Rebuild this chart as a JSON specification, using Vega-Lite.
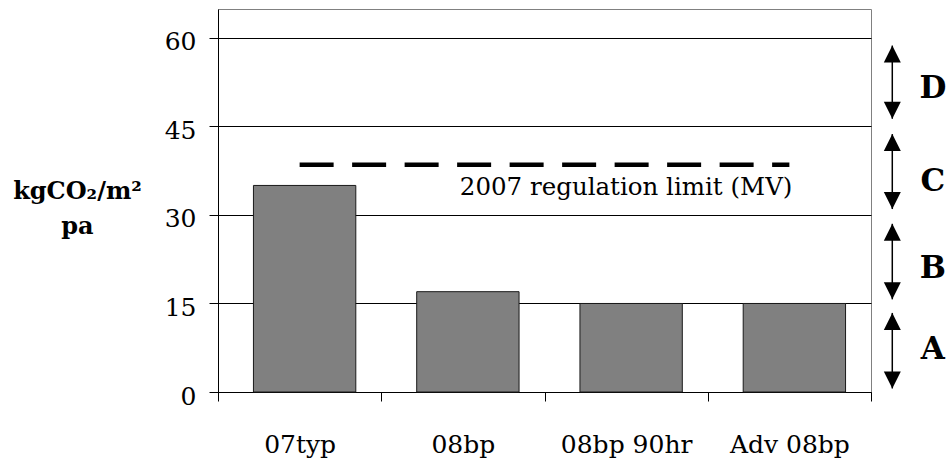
{
  "$schema": "https://vega.github.io/schema/vega-lite/v6.json",
  "width": 653,
  "height": 383,
  "autosize": "none",
  "padding": {"left": 218, "top": 9, "right": 76, "bottom": 69},
  "background": "white",
  "config": {
    "view": {"stroke": "#808080", "strokeWidth": 1},
    "font": "DejaVu Serif",
    "axis": {"labelFont": "DejaVu Serif", "titleFont": "DejaVu Serif"},
    "text": {"font": "DejaVu Serif"}
  },
  "datasets": {
    "bars": [
      {"scenario": "07typ", "value": 35},
      {"scenario": "08bp", "value": 17},
      {"scenario": "08bp 90hr", "value": 15},
      {"scenario": "Adv 08bp", "value": 15}
    ],
    "limit": [
      {"scenario": "07typ", "limit": 38.5},
      {"scenario": "08bp", "limit": 38.5},
      {"scenario": "08bp 90hr", "limit": 38.5},
      {"scenario": "Adv 08bp", "limit": 38.5}
    ],
    "note": [
      {"scenario": "08bp 90hr", "pos": 33.3, "label": "2007 regulation limit (MV)"}
    ],
    "bands": [
      {"band": "A", "lo": 0.6, "hi": 13.4, "ly": 7.1},
      {"band": "B", "lo": 15.7, "hi": 28.5, "ly": 20.9},
      {"band": "C", "lo": 31.0, "hi": 43.7, "ly": 35.6},
      {"band": "D", "lo": 46.3, "hi": 58.7, "ly": 51.4}
    ]
  },
  "layer": [
    {
      "layer": [
        {
          "data": {"name": "bars"},
          "mark": {"type": "bar", "fill": "#808080", "stroke": "#1a1a1a", "strokeWidth": 1, "xOffset": 5, "width": {"band": 0.627}},
          "encoding": {
            "x": {
              "field": "scenario",
              "type": "nominal",
              "sort": null,
              "scale": {"paddingInner": 0, "paddingOuter": 0},
              "axis": {
                "title": null,
                "labelAngle": 0,
                "labelFontSize": 25,
                "labelColor": "black",
                "labelPadding": 31,
                "tickBand": "extent",
                "tickSize": 9,
                "tickColor": "black",
                "domainColor": "black",
                "grid": false
              }
            },
            "y": {
              "field": "value",
              "type": "quantitative",
              "scale": {"domain": [0, 64.9], "nice": false, "zero": true},
              "axis": {
                "values": [0, 15, 30, 45, 60],
                "grid": true,
                "gridColor": "black",
                "gridOpacity": 1,
                "gridWidth": 1,
                "domainColor": "black",
                "tickColor": "black",
                "tickSize": 9,
                "labelFontSize": 25,
                "labelColor": "black",
                "labelPadding": 13,
                "labelOffset": 4,
                "title": ["kgCO₂/m²", "pa"],
                "titleAngle": 0,
                "titleFontSize": 24,
                "titleFontWeight": "bold",
                "titleColor": "black",
                "titleAlign": "center",
                "titleBaseline": "alphabetic",
                "titleLineHeight": 35,
                "titleX": -141,
                "titleY": 189
              }
            }
          }
        },
        {
          "data": {"name": "limit"},
          "mark": {"type": "line", "color": "black", "strokeWidth": 4.5, "strokeDash": [34, 18.5]},
          "encoding": {
            "x": {"field": "scenario", "type": "nominal", "sort": null},
            "y": {"field": "limit", "type": "quantitative"}
          }
        },
        {
          "data": {"name": "note"},
          "mark": {"type": "text", "fontSize": 24.5, "color": "black", "align": "center", "baseline": "alphabetic"},
          "encoding": {
            "x": {"field": "scenario", "type": "nominal", "sort": null},
            "y": {"field": "pos", "type": "quantitative"},
            "text": {"field": "label"}
          }
        }
      ]
    },
    {
      "data": {"name": "bands"},
      "layer": [
        {
          "mark": {"type": "rule", "color": "black", "strokeWidth": 1.5},
          "encoding": {
            "x": {"datum": 1.0326, "type": "quantitative", "scale": {"domain": [0, 1], "nice": false, "zero": false}, "axis": null},
            "y": {"field": "lo", "type": "quantitative"},
            "y2": {"field": "hi"}
          }
        },
        {
          "mark": {"type": "point", "shape": "M0,0L-1,2L1,2Z", "size": 289, "filled": true, "color": "black", "opacity": 1},
          "encoding": {
            "x": {"datum": 1.0326, "type": "quantitative"},
            "y": {"field": "hi", "type": "quantitative"}
          }
        },
        {
          "mark": {"type": "point", "shape": "M0,0L-1,-2L1,-2Z", "size": 289, "filled": true, "color": "black", "opacity": 1},
          "encoding": {
            "x": {"datum": 1.0326, "type": "quantitative"},
            "y": {"field": "lo", "type": "quantitative"}
          }
        },
        {
          "mark": {"type": "text", "fontSize": 31, "fontWeight": "bold", "color": "black", "align": "center", "baseline": "middle"},
          "encoding": {
            "x": {"datum": 1.0947, "type": "quantitative"},
            "y": {"field": "ly", "type": "quantitative"},
            "text": {"field": "band"}
          }
        }
      ]
    }
  ],
  "resolve": {"scale": {"x": "independent"}}
}
